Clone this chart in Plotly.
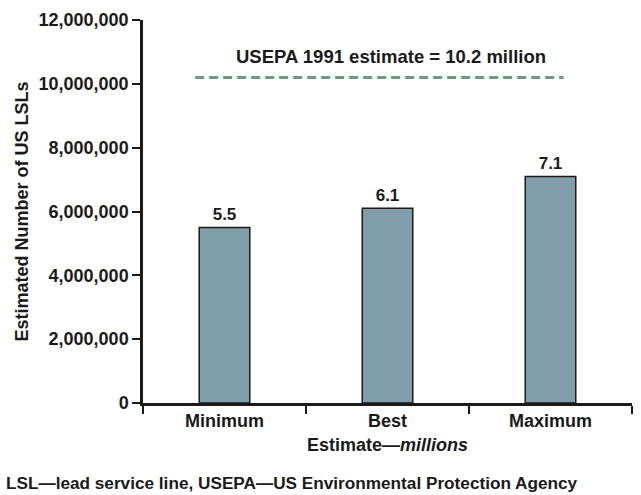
import plotly.graph_objects as go

# Estimated number of US lead service lines (millions)
categories = ["Minimum", "Best", "Maximum"]
estimates_millions = [5.5, 6.1, 7.1]
usepa_1991_millions = 10.2
y_ticks = [0, 2_000_000, 4_000_000, 6_000_000, 8_000_000, 10_000_000, 12_000_000]
y_tick_labels = ["0", "2,000,000", "4,000,000", "6,000,000", "8,000,000", "10,000,000", "12,000,000"]

FONT = "Liberation Sans, Arial, Helvetica, sans-serif"
INK = "#1a1a1a"
BAR_FILL = "#7f9ea9"
DASH_GREEN = "#6a9d79"

values = [v * 1_000_000 for v in estimates_millions]

fig = go.Figure()
fig.add_trace(go.Bar(
    x=categories,
    y=values,
    width=0.31,
    marker=dict(color=BAR_FILL, line=dict(color=INK, width=1.5)),
    text=[f"<b>{v:.1f}</b>" for v in estimates_millions],
    textposition="outside",
    textfont=dict(family=FONT, size=17, color=INK),
    cliponaxis=False,
    hoverinfo="skip",
))

# USEPA 1991 reference estimate
fig.add_shape(
    type="line", xref="x", yref="y",
    x0=-0.18, x1=2.08,
    y0=usepa_1991_millions * 1_000_000, y1=usepa_1991_millions * 1_000_000,
    line=dict(color=DASH_GREEN, width=3, dash="9px,5px"),
)
fig.add_annotation(
    x=1.02, y=10_850_000, xref="x", yref="y",
    text=f"<b>USEPA 1991 estimate = {usepa_1991_millions} million</b>",
    showarrow=False,
    font=dict(family=FONT, size=18.5, color=INK),
)

# Footnote
fig.add_annotation(
    x=-0.284, y=-0.209, xref="paper", yref="paper",
    text="<b>LSL—lead service line, USEPA—US Environmental Protection Agency</b>",
    showarrow=False, xanchor="left", yanchor="middle",
    font=dict(family=FONT, size=17.2, color=INK),
)

fig.update_layout(
    width=641, height=495,
    margin=dict(l=143, r=9, t=20, b=92),
    paper_bgcolor="white", plot_bgcolor="white",
    showlegend=False,
    font=dict(family=FONT, color=INK),
)

fig.update_xaxes(
    type="category",
    tickson="boundaries",
    ticks="outside", ticklen=8, tickwidth=1.5, tickcolor=INK,
    showline=True, linecolor=INK, linewidth=2.5,
    showgrid=False, zeroline=False,
    tickfont=dict(family=FONT, size=18, color=INK),
    ticktext=[f"<b>{c}</b>" for c in categories], tickvals=categories,
    title=dict(text="<b>Estimate—<i>millions</i></b>", font=dict(family=FONT, size=18, color=INK), standoff=9),
    range=[-0.5, 2.5],
)

fig.update_yaxes(
    range=[0, 12_000_000],
    tickvals=y_ticks,
    ticktext=[f"<b>{t}</b>" for t in y_tick_labels],
    ticks="outside", ticklen=8, tickwidth=1.5, tickcolor=INK,
    showline=True, linecolor=INK, linewidth=2.5,
    showgrid=False, zeroline=False,
    tickfont=dict(family=FONT, size=18, color=INK),
    title=dict(text="<b>Estimated Number of US LSLs</b>", font=dict(family=FONT, size=18, color=INK), standoff=6),
)

fig.write_html("out.html")
